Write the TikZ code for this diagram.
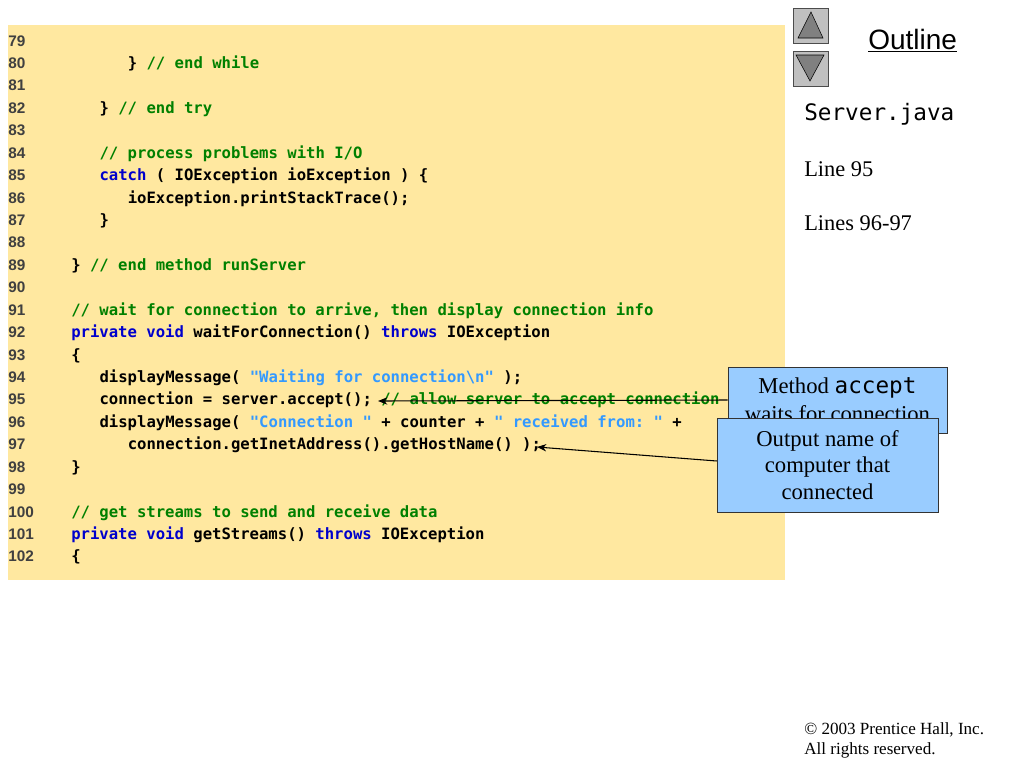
\documentclass[tikz,border=0pt]{standalone}
\usepackage{fontspec}
\setmainfont{Liberation Serif}
\setsansfont{Liberation Sans}
\setmonofont{DejaVu Sans Mono}
\usetikzlibrary{arrows.meta,positioning}

\definecolor{codebg}{RGB}{255,232,160}
\definecolor{cmtgreen}{RGB}{0,128,0}
\definecolor{kwblue}{RGB}{0,0,204}
\definecolor{strblue}{RGB}{51,153,255}
\definecolor{numgray}{RGB}{64,64,64}
\definecolor{callbg}{RGB}{153,204,255}
\definecolor{btngray}{RGB}{192,192,192}
\definecolor{trigray}{RGB}{128,128,128}

\newcommand{\cmnt}[1]{\textcolor{cmtgreen}{#1}}
\newcommand{\kwd}[1]{\textcolor{kwblue}{#1}}
\newcommand{\strl}[1]{\textcolor{strblue}{#1}}

\begin{document}
\begin{tikzpicture}[x=0.75pt,y=-0.75pt,
    code/.style={anchor=base west,inner sep=0pt,font=\fontsize{11.7}{14}\selectfont\ttfamily\bfseries},
    num/.style={anchor=base west,inner sep=0pt,text=numgray,font=\fontsize{11.5}{13}\selectfont\sffamily\bfseries},
    callout/.style={draw=black!80,fill=callbg,align=center,inner sep=0pt,font=\fontsize{17}{21}\selectfont},
    btnbox/.style={draw=black!70,fill=btngray,minimum size=26.25pt,inner sep=0pt},
    side/.style={anchor=base west,inner sep=0pt,font=\fontsize{16.8}{20}\selectfont},
    pointer/.style={line width=0.8pt,-{Stealth[length=7pt,width=5.5pt]}}]
  \useasboundingbox (0,0) rectangle (1024,768);
  \fill[codebg] (8,25) rectangle (785,580);

  \foreach \n in {79,...,102}
    \node[num] (n\n) at (8,{46+22.43*(\n-79)}) {\n};

  \node[code] (c80) at (127.5,68.43) {\} \cmnt{// end while}};
  \node[code] (c82) at (99.3,113.29) {\} \cmnt{// end try}};
  \node[code] (c84) at (99.3,158.15) {\cmnt{// process problems with I/O}};
  \node[code] (c85) at (99.3,180.58) {\kwd{catch} ( IOException ioException ) \{};
  \node[code] (c86) at (127.5,203.01) {ioException.printStackTrace();};
  \node[code] (c87) at (99.3,225.44) {\}};
  \node[code] (c89) at (71,270.30) {\} \cmnt{// end method runServer}};
  \node[code] (c91) at (71,315.16) {\cmnt{// wait for connection to arrive, then display connection info}};
  \node[code] (c92) at (71,337.59) {\kwd{private void} waitForConnection() \kwd{throws} IOException};
  \node[code] (c93) at (71,360.02) {\{};
  \node[code] (c94) at (99.3,382.45) {displayMessage( \strl{"Waiting for connection\textbackslash n"} );};
  \node[code] (c95) at (99.3,404.88) {connection = server.accept(); \cmnt{// allow server to accept connection}};
  \node[code] (c96) at (99.3,427.31) {displayMessage( \strl{"Connection "} + counter + \strl{" received from: "} +};
  \node[code] (c97) at (127.5,449.74) {connection.getInetAddress().getHostName() );};
  \node[code] (c98) at (71,472.17) {\}};
  \node[code] (c100) at (71,517.03) {\cmnt{// get streams to send and receive data}};
  \node[code] (c101) at (71,539.46) {\kwd{private void} getStreams() \kwd{throws} IOException};
  \node[code] (c102) at (71,561.89) {\{};

  \node[btnbox] (up) at (810.5,25.5) {};
  \filldraw[fill=trigray,draw=black] (811,12) -- (798,38) -- (823,38) -- cycle;
  \node[btnbox] (down) at (810.5,68.5) {};
  \filldraw[fill=trigray,draw=black] (796,55) -- (824,55) -- (810,81) -- cycle;
  \node[anchor=base west,inner sep=0pt,font=\fontsize{21}{25}\selectfont\sffamily] (outl) at (868,49) {\underline{Outline}};

  \node[side,font=\fontsize{17}{20}\selectfont\ttfamily] (file) at (804,120) {Server.java};
  \node[side] (l95) at (804,176) {Line 95};
  \node[side] (l9697) at (804,230) {Lines 96-97};

  \node[callout,minimum width=164.25pt,minimum height=49.5pt] (acc) at (837.5,400)
    {Method \texttt{accept}\\waits for connection};
  \node[callout,minimum width=165.75pt,minimum height=70.5pt,font=\fontsize{17}{20}\selectfont] (host) at (827.5,465)
    {Output name of\\computer that\\connected};
  \coordinate (t95) at (378,401);
  \coordinate (t97) at (537,447);
  \draw[pointer] (acc.west) -- (t95);
  \draw[pointer] ([yshift=3pt]host.west) -- (t97);

  \node[side,font=\fontsize{12.8}{15}\selectfont,align=left] (copy) at (804,754)
    {© 2003 Prentice Hall, Inc.\\All rights reserved.};
\end{tikzpicture}
\end{document}
